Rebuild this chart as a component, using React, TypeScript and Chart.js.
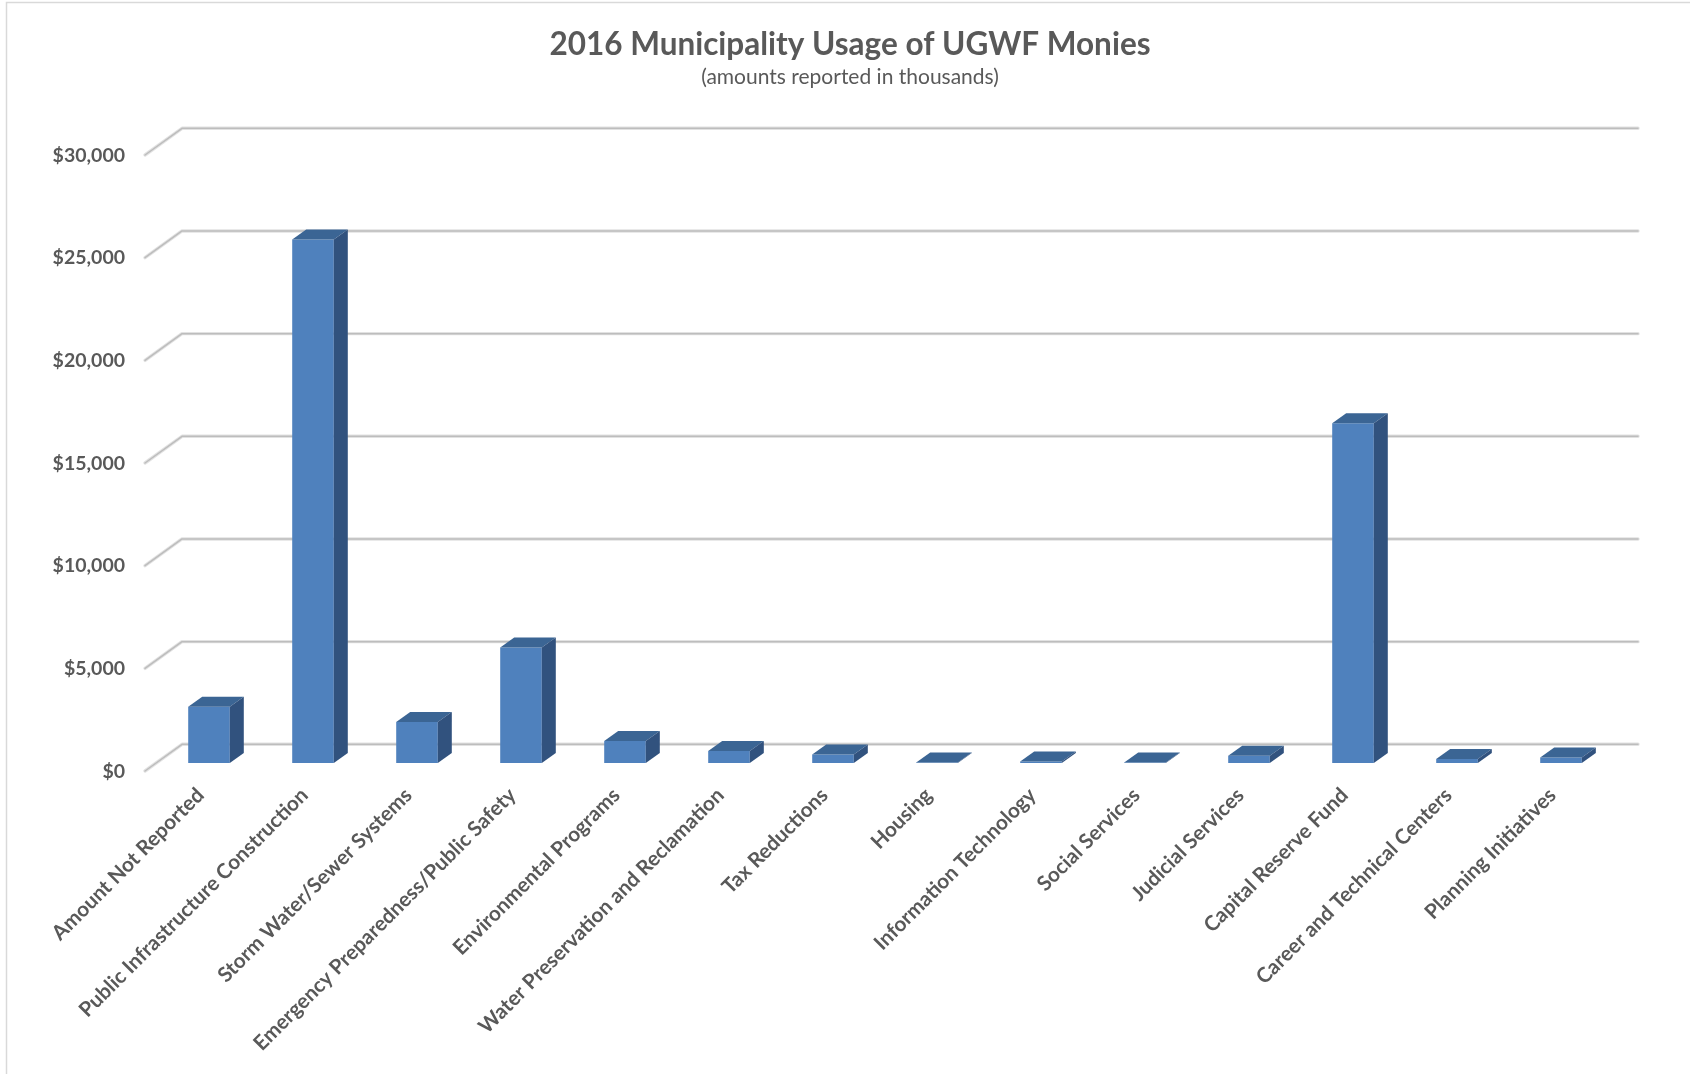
import React, { useEffect, useRef } from 'react';
import { Chart, registerables } from 'chart.js';

Chart.register(...registerables);

const categories = [
  'Amount Not Reported',
  'Public Infrastructure Construction',
  'Storm Water/Sewer Systems',
  'Emergency Preparedness/Public Safety',
  'Environmental Programs',
  'Water Preservation and Reclamation',
  'Tax Reductions',
  'Housing',
  'Information Technology',
  'Social Services',
  'Judicial Services',
  'Capital Reserve Fund',
  'Career and Technical Centers',
  'Planning Initiatives',
];

const amounts = [2740, 25500, 2000, 5630, 1070, 580, 420, 20, 70, 30, 350, 16550, 200, 270];

const yTickValues = [0, 5000, 10000, 15000, 20000, 25000, 30000];

const titleText = '2016 Municipality Usage of UGWF Monies';
const subtitleText = '(amounts reported in thousands)';

const FONT = 'Lato, "Open Sans", sans-serif';
const TEXT_COLOR = '#595959';
const FRONT = { dx: -12, dy: 8 };
const BACK = { dx: 25, dy: -18.7 };
const BAR_DEPTH = { dx: 14, dy: -10 };

const wall3d = {
  id: 'wall3d',
  beforeDraw(chart: any) {
    const ctx = chart.ctx;
    ctx.save();
    ctx.fillStyle = '#ffffff';
    ctx.fillRect(0, 0, chart.width, chart.height);
    ctx.strokeStyle = '#d9d9d9';
    ctx.lineWidth = 1.5;
    ctx.beginPath();
    ctx.moveTo(6.5, chart.height + 5);
    ctx.lineTo(6.5, 2.5);
    ctx.lineTo(chart.width + 5, 2.5);
    ctx.stroke();
    ctx.restore();
  },
  beforeDatasetsDraw(chart: any) {
    const ctx = chart.ctx;
    const ys = chart.scales.y;
    const { left, right } = chart.chartArea;
    ctx.save();
    ctx.lineJoin = 'round';
    ctx.lineCap = 'round';
    for (const v of yTickValues) {
      const py = ys.getPixelForValue(v);
      const path = () => {
        ctx.beginPath();
        ctx.moveTo(left + FRONT.dx, py + FRONT.dy);
        ctx.lineTo(left + BACK.dx, py + BACK.dy);
        ctx.lineTo(right + BACK.dx, py + BACK.dy);
      };
      ctx.strokeStyle = '#e2e2e2';
      ctx.lineWidth = 3.4;
      path();
      ctx.stroke();
      ctx.strokeStyle = '#bdbdbd';
      ctx.lineWidth = 1.5;
      path();
      ctx.stroke();
    }
    ctx.restore();
  },
  afterDatasetsDraw(chart: any) {
    const ctx = chart.ctx;
    const meta = chart.getDatasetMeta(0);
    ctx.save();
    meta.data.forEach((bar: any) => {
      const { x, y, base, width } = bar.getProps(['x', 'y', 'base', 'width'], true);
      const xl = x - width / 2;
      const xr = x + width / 2;
      ctx.fillStyle = '#3b6594';
      ctx.beginPath();
      ctx.moveTo(xl, y);
      ctx.lineTo(xr, y);
      ctx.lineTo(xr + BAR_DEPTH.dx, y + BAR_DEPTH.dy);
      ctx.lineTo(xl + BAR_DEPTH.dx, y + BAR_DEPTH.dy);
      ctx.closePath();
      ctx.fill();
      ctx.fillStyle = '#31527e';
      ctx.beginPath();
      ctx.moveTo(xr, y);
      ctx.lineTo(xr + BAR_DEPTH.dx, y + BAR_DEPTH.dy);
      ctx.lineTo(xr + BAR_DEPTH.dx, base + BAR_DEPTH.dy);
      ctx.lineTo(xr, base);
      ctx.closePath();
      ctx.fill();
    });
    ctx.restore();
  },
};

export default function App() {
  const canvasRef = useRef<HTMLCanvasElement | null>(null);

  useEffect(() => {
    const canvas = canvasRef.current;
    if (!canvas) return;
    const chart = new Chart(canvas, {
      type: 'bar',
      data: {
        labels: categories,
        datasets: [
          {
            label: 'Amount',
            data: amounts,
            backgroundColor: '#4f81bd',
            borderWidth: 0,
            barPercentage: 0.4,
            categoryPercentage: 1.0,
          },
        ],
      },
      options: {
        animation: false,
        responsive: false,
        devicePixelRatio: 1,
        layout: { padding: { left: 10, right: 0, top: 0, bottom: 0 } },
        plugins: {
          legend: { display: false },
          tooltip: { enabled: false },
          title: {
            display: true,
            text: titleText,
            color: TEXT_COLOR,
            font: { family: FONT, size: 31.5, weight: 'bold' },
            padding: { top: 26, bottom: 0.5 },
          },
          subtitle: {
            display: true,
            text: subtitleText,
            color: TEXT_COLOR,
            font: { family: FONT, size: 21, weight: 'normal' },
            padding: { top: 0.7, bottom: 56.8 },
          },
        },
        scales: {
          x: {
            grid: { display: false, drawTicks: false, tickLength: 0 },
            border: { display: false },
            ticks: {
              color: TEXT_COLOR,
              font: { family: FONT, size: 20.7, weight: 'bold' },
              minRotation: 45,
              maxRotation: 45,
              autoSkip: false,
              padding: 20,
              labelOffset: -8.5,
            },
            afterFit: (scale: any) => {
              scale.height = 311;
            },
          },
          y: {
            min: 0,
            max: 30000,
            grid: { display: false, drawTicks: false, tickLength: 0 },
            border: { display: false },
            afterBuildTicks: (scale: any) => {
              scale.ticks = yTickValues.map((v) => ({ value: v }));
            },
            ticks: {
              color: TEXT_COLOR,
              font: { family: FONT, size: 19.5, weight: 'bold' },
              padding: 32,
              labelOffset: 8.5,
              callback: (v: any) => '$' + Number(v).toLocaleString('en-US'),
            },
            afterFit: (scale: any) => {
              scale.width = 147;
            },
          },
          yRight: {
            type: 'linear',
            position: 'right',
            display: true,
            grid: { display: false, drawTicks: false },
            border: { display: false },
            ticks: { display: false },
            afterFit: (scale: any) => {
              scale.width = 77;
            },
          },
        },
      },
      plugins: [wall3d],
    });
    return () => chart.destroy();
  }, []);

  return (
    <div style={{ position: 'absolute', left: 0, top: 0, width: 1690, height: 1074 }}>
      <canvas ref={canvasRef} width={1690} height={1074} style={{ width: 1690, height: 1074 }} />
    </div>
  );
}
